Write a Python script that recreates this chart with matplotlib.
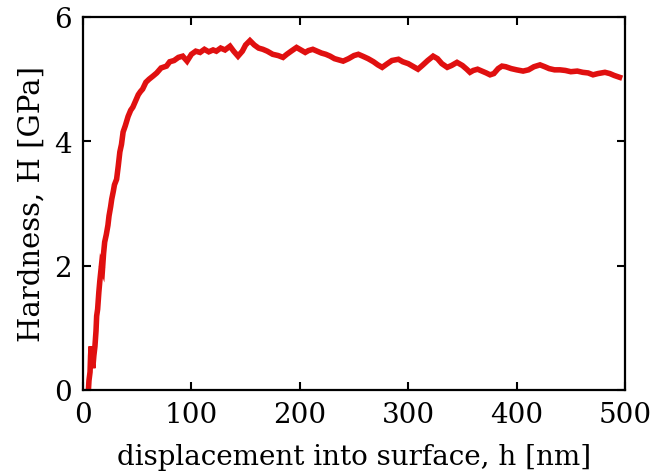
import matplotlib
matplotlib.use("Agg")
import matplotlib.pyplot as plt

# displacement h [nm] and hardness H [GPa]
h = [5, 5.5, 6.5, 7, 7.5, 8, 9, 10, 11, 12, 12.6, 13.5, 14.6, 15.5, 17, 18, 19, 20, 21.5, 23, 24,
     25.5, 26.5, 28, 29, 31, 32.5, 34, 35.5, 37, 39, 41.6, 44, 46, 48, 51, 53, 55, 58, 61, 64.6,
     68, 72, 77, 80, 84, 88, 92, 96, 100, 104, 108, 112, 116, 120, 123, 127, 131, 135.6, 139,
     143, 147, 150, 154, 158, 162, 166, 170, 175, 180, 184.5, 188, 192, 197, 201, 205, 208, 212,
     216, 220, 224, 228, 232, 236, 240, 245, 250, 254, 258, 263, 268, 272, 276, 280, 285, 291,
     295, 300, 305, 309, 313, 318, 323, 327, 331, 336, 340, 345, 350, 354, 357, 360, 364, 368,
     372, 375.5, 379, 383, 386.5, 390, 395, 400, 406, 411, 416, 421.6, 426, 430, 435, 440, 445,
     450, 456, 461, 466, 470.5, 475, 481.5, 486, 490, 495]
H = [0.0, 0.15, 0.29, 0.55, 0.7, 0.5, 0.35, 0.55, 0.7, 0.95, 1.19, 1.3, 1.57, 1.75, 2.0, 1.95,
     2.2, 2.38, 2.5, 2.65, 2.8, 2.95, 3.07, 3.2, 3.3, 3.39, 3.6, 3.83, 3.95, 4.15, 4.25, 4.4,
     4.5, 4.55, 4.63, 4.75, 4.8, 4.84, 4.95, 5.0, 5.05, 5.1, 5.18, 5.21, 5.28, 5.3, 5.35, 5.37,
     5.29, 5.4, 5.45, 5.43, 5.48, 5.44, 5.47, 5.45, 5.5, 5.47, 5.53, 5.45, 5.37, 5.45, 5.55,
     5.62, 5.55, 5.5, 5.48, 5.45, 5.4, 5.38, 5.35, 5.4, 5.45, 5.51, 5.47, 5.43, 5.46, 5.48, 5.45,
     5.42, 5.4, 5.37, 5.33, 5.31, 5.29, 5.33, 5.38, 5.4, 5.37, 5.33, 5.28, 5.23, 5.19, 5.24, 5.3,
     5.32, 5.28, 5.25, 5.2, 5.16, 5.22, 5.3, 5.37, 5.33, 5.25, 5.19, 5.22, 5.27, 5.22, 5.16,
     5.11, 5.14, 5.16, 5.13, 5.1, 5.07, 5.09, 5.17, 5.21, 5.2, 5.17, 5.15, 5.13, 5.15, 5.2, 5.23,
     5.2, 5.17, 5.15, 5.15, 5.14, 5.12, 5.13, 5.11, 5.1, 5.07, 5.09, 5.11, 5.09, 5.06, 5.03]

x_ticks = [0, 100, 200, 300, 400, 500]
y_ticks = [0, 2, 4, 6]

plt.rcParams['font.family'] = ['DejaVu Serif']

fig = plt.figure(figsize=(6.57, 4.77), dpi=100)
ax = fig.add_axes([83/657, 1-391/477, (625-83)/657, (391-18)/477])
ax.plot(h, H, color='#e01010', linewidth=4.0, solid_joinstyle='miter')
ax.set_xlim(0, 500)
ax.set_ylim(0, 6)
ax.set_xticks(x_ticks)
ax.set_yticks(y_ticks)
ax.tick_params(direction='in', length=6, width=1.5, top=True, right=True,
               labelsize=20, pad=8)
for s in ax.spines.values():
    s.set_linewidth(1.6)
ax.set_xlabel('displacement into surface, h [nm]', fontsize=20, labelpad=11)
ax.set_ylabel('Hardness, H [GPa]', fontsize=21, labelpad=6)
fig.savefig('out.png', dpi=100)
